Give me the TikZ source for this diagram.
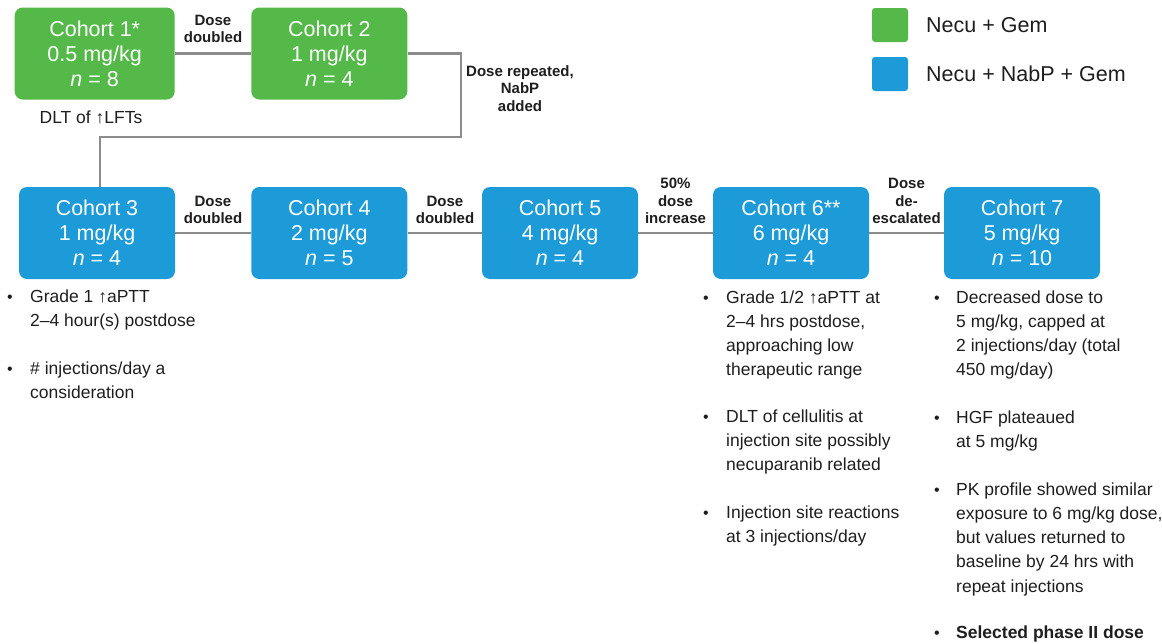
\documentclass[tikz,border=0pt]{standalone}
\usepackage{fontspec}
\setmainfont{Liberation Sans}
\definecolor{ngreen}{RGB}{84,185,72}
\definecolor{nblue}{RGB}{28,155,216}
\definecolor{conngray}{RGB}{140,140,140}
\definecolor{txtgray}{RGB}{30,30,30}
\begin{document}
\begin{tikzpicture}[x=1pt,y=-1pt,
  cohort/.style={rounded corners=8pt, minimum width=156pt, minimum height=92pt, text=white, inner sep=0pt, align=center, font=\fontsize{21.5}{25}\selectfont},
  greenbox/.style={cohort, fill=ngreen},
  bluebox/.style={cohort, fill=nblue},
  connline/.style={draw=conngray, line width=2.5pt},
  lbl/.style={font=\bfseries\fontsize{15}{17.5}\selectfont, inner sep=0pt, text=txtgray},
  note/.style={font=\fontsize{17.5}{24.3}\selectfont, inner sep=0pt, anchor=base west, text=txtgray},
  bul/.style={font=\fontsize{16}{16}\selectfont, inner sep=0pt, anchor=base, text=txtgray},
  legsq/.style={minimum width=36pt, minimum height=34pt, rounded corners=3pt, inner sep=0pt},
  legtxt/.style={anchor=west, inner sep=0pt, font=\fontsize{21.5}{25}\selectfont, text=txtgray}]
\useasboundingbox (0,0) rectangle (1162,643);

% cohorts
\node[greenbox, minimum width=160pt] (c1) at (94.7,53.5) {Cohort 1*\\0.5 mg/kg\\\textit{n} = 8};
\node[greenbox] (c2) at (329.3,53.5) {Cohort 2\\1 mg/kg\\\textit{n} = 4};
\node[bluebox] (c3) at (97,233) {Cohort 3\\1 mg/kg\\\textit{n} = 4};
\node[bluebox] (c4) at (329.3,233) {Cohort 4\\2 mg/kg\\\textit{n} = 5};
\node[bluebox] (c5) at (560,233) {Cohort 5\\4 mg/kg\\\textit{n} = 4};
\node[bluebox] (c6) at (791,233) {Cohort 6**\\6 mg/kg\\\textit{n} = 4};
\node[bluebox] (c7) at (1022,233) {Cohort 7\\5 mg/kg\\\textit{n} = 10};

% connectors
\coordinate (k1) at (461,137);
\coordinate (k2) at (100,137);
\draw[connline] (c1) -- (c2);
\draw[connline] (c2.east) -| (k1) -- (k2) -- (k2 |- c3.north);
\draw[connline] (c3) -- (c4);
\draw[connline] (c4) -- (c5);
\draw[connline] (c5) -- (c6);
\draw[connline] (c6) -- (c7);

% connector labels
\node[lbl, anchor=south] (l12) at (213,48) {\begin{tabular}[b]{@{}c@{}}Dose\\doubled\end{tabular}};
\node[lbl] (l23) at (520,90) {\begin{tabular}{@{}c@{}}Dose repeated,\\NabP\\added\end{tabular}};
\node[lbl, anchor=south] (l34) at (213,229) {\begin{tabular}[b]{@{}c@{}}Dose\\doubled\end{tabular}};
\node[lbl, anchor=south] (l45) at (445,229) {\begin{tabular}[b]{@{}c@{}}Dose\\doubled\end{tabular}};
\node[lbl, anchor=south] (l56) at (675.5,229) {\begin{tabular}[b]{@{}c@{}}50\%\\dose\\increase\end{tabular}};
\node[lbl, anchor=south] (l67) at (906.5,229) {\begin{tabular}[b]{@{}c@{}}Dose\\de-\\escalated\end{tabular}};

\node[inner sep=0pt, text=txtgray, font=\fontsize{17.5}{20}\selectfont] (dlt) at (91,117) {DLT of ↑LFTs};

% legend
\node[legsq, fill=ngreen] (lg1) at (890,25) {};
\node[legtxt] (lt1) at (926,25) {Necu + Gem};
\node[legsq, fill=nblue] (lg2) at (890,74) {};
\node[legtxt] (lt2) at (926,74) {Necu + NabP + Gem};

% notes cohort 3
\node[bul] (b3a) at (10,302) {•};
\node[note] (t3a) at (30,302) {\begin{tabular}[t]{@{}l@{}}Grade 1 ↑aPTT\\2–4 hour(s) postdose\end{tabular}};
\node[bul] (b3b) at (10,374) {•};
\node[note] (t3b) at (30,374) {\begin{tabular}[t]{@{}l@{}}\# injections/day a\\consideration\end{tabular}};

% notes cohort 6
\node[bul] (b6a) at (706,303) {•};
\node[note] (t6a) at (726,303) {\begin{tabular}[t]{@{}l@{}}Grade 1/2 ↑aPTT at\\2–4 hrs postdose,\\approaching low\\therapeutic range\end{tabular}};
\node[bul] (b6b) at (706,422) {•};
\node[note] (t6b) at (726,422) {\begin{tabular}[t]{@{}l@{}}DLT of cellulitis at\\injection site possibly\\necuparanib related\end{tabular}};
\node[bul] (b6c) at (706,518) {•};
\node[note] (t6c) at (726,518) {\begin{tabular}[t]{@{}l@{}}Injection site reactions\\at 3 injections/day\end{tabular}};

% notes cohort 7
\node[bul] (b7a) at (937,303) {•};
\node[note] (t7a) at (956,303) {\begin{tabular}[t]{@{}l@{}}Decreased dose to\\5 mg/kg, capped at\\2 injections/day (total\\450 mg/day)\end{tabular}};
\node[bul] (b7b) at (937,423) {•};
\node[note] (t7b) at (956,423) {\begin{tabular}[t]{@{}l@{}}HGF plateaued\\at 5 mg/kg\end{tabular}};
\node[bul] (b7c) at (937,495) {•};
\node[note] (t7c) at (956,495) {\begin{tabular}[t]{@{}l@{}}PK profile showed similar\\exposure to 6 mg/kg dose,\\but values returned to\\baseline by 24 hrs with\\repeat injections\end{tabular}};
\node[bul] (b7d) at (937,638) {•};
\node[note, font=\bfseries\fontsize{17.5}{24.3}\selectfont] (t7d) at (956,638) {Selected phase II dose};
\end{tikzpicture}
\end{document}
